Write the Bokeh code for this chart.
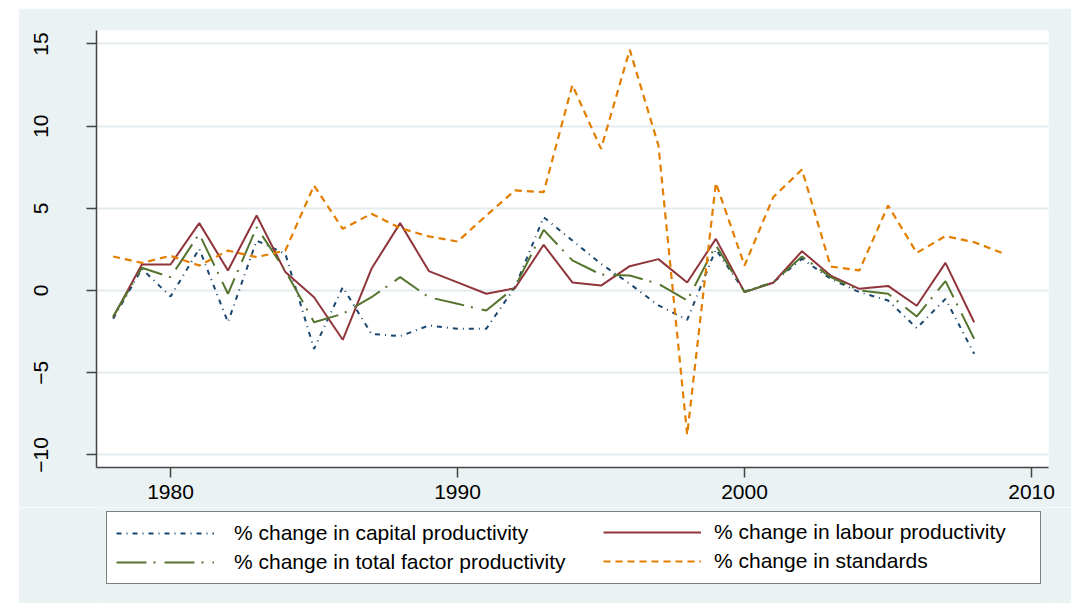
from bokeh.plotting import figure
from bokeh.models import Legend, LegendItem, FixedTicker, Range1d, Spacer
from bokeh.layouts import row, column
from bokeh.embed import file_html
from bokeh.resources import INLINE

years = list(range(1978, 2009))
years_std = list(range(1978, 2010))

capital = [-1.72, 1.32, -0.37, 2.54, -1.93, 3.04, 2.23, -3.55, 0.20, -2.64,
           -2.78, -2.13, -2.33, -2.33, 0.20, 4.46, 3.04, 1.62, 0.41, -0.91,
           -1.79, 2.50, -0.06, 0.50, 1.93, 0.71, -0.10, -0.61, -2.29, -0.51,
           -3.85]
labour = [-1.62, 1.58, 1.58, 4.10, 1.22, 4.56, 1.12, -0.41, -3.00, 1.32,
          4.10, 1.18, 0.49, -0.20, 0.14, 2.78, 0.49, 0.30, 1.48, 1.91,
          0.49, 3.14, -0.10, 0.47, 2.39, 0.91, 0.10, 0.28, -0.93, 1.68,
          -1.93]
tfp = [-1.58, 1.38, 0.81, 3.45, -0.20, 3.85, 1.20, -1.93, -1.42, -0.41,
       0.81, -0.41, -0.81, -1.22, 0.20, 3.69, 1.83, 0.97, 0.91, 0.41,
       -0.61, 2.76, -0.10, 0.50, 2.07, 0.81, 0.00, -0.20, -1.58, 0.57,
       -2.94]
standards = [2.07, 1.68, 2.11, 1.52, 2.43, 2.03, 2.43, 6.39, 3.75, 4.67,
             3.80, 3.29, 2.98, 4.56, 6.09, 5.98, 12.50, 8.62, 14.65, 8.82,
             -8.78, 6.55, 1.52, 5.68, 7.36, 1.46, 1.22, 5.17, 2.29, 3.31,
             2.94, 2.27]

x_ticks = [1980, 1990, 2000, 2010]
y_ticks = [-10, -5, 0, 5, 10, 15]

labels = ["% change in capital productivity",
          "% change in labour productivity",
          "% change in total factor productivity",
          "% change in standards"]

BG = "#EAF2F3"
FONT = "Liberation Sans"
STYLES = [dict(line_color="#1a476f", line_width=2, line_dash="5 5 1 5"),
          dict(line_color="#90353b", line_width=2),
          dict(line_color="#55752f", line_width=2, line_dash="30 7 2 9"),
          dict(line_color="#e37e00", line_width=2.2, line_dash="7 5")]
SERIES = [(years, capital), (years, labour), (years, tfp),
          (years_std, standards)]

X_RANGE = (1977.42, 2010.59)

p = figure(frame_width=952, frame_height=437,
           x_range=Range1d(*X_RANGE), y_range=Range1d(-10.77, 15.82),
           output_backend="svg", toolbar_location=None,
           min_border_left=78, min_border_right=23, min_border_top=22,
           min_border_bottom=40,
           background_fill_color="white", border_fill_color=BG)
p.outline_line_color = None

p.xgrid.visible = False
p.ygrid.grid_line_color = "#E4ECEF"
p.ygrid.grid_line_width = 2
p.ygrid.ticker = FixedTicker(ticks=y_ticks)

for ax in (p.xaxis[0], p.yaxis[0]):
    ax.axis_line_color = "#444444"
    ax.axis_line_width = 1.5
    ax.major_tick_line_color = "#444444"
    ax.major_tick_line_width = 1.5
    ax.major_tick_in = 0
    ax.major_tick_out = 10
    ax.minor_tick_line_color = None
    ax.major_label_text_font = FONT
    ax.major_label_text_font_size = "21px"
    ax.major_label_text_color = "black"

p.xaxis.ticker = FixedTicker(ticks=x_ticks)
p.yaxis.ticker = FixedTicker(ticks=y_ticks)
p.yaxis.major_label_orientation = "vertical"
p.yaxis.major_label_standoff = 38
p.xaxis.major_label_standoff = 7

for (xs, ys), st in zip(SERIES, STYLES):
    p.line(xs, ys, **st)

# legend panel: a second figure whose data window lies away from the series,
# so only the legend (with its line samples) shows
q = figure(width=1053, height=96, x_range=Range1d(*X_RANGE),
           y_range=Range1d(100, 200),
           output_backend="svg", toolbar_location=None,
           min_border=0, border_fill_color=BG, background_fill_color=BG)
q.outline_line_color = None
q.axis.visible = False
q.grid.visible = False
lr = [q.line(xs, ys, **st) for (xs, ys), st in zip(SERIES, STYLES)]

common = dict(glyph_width=98, glyph_height=20, label_height=20,
              padding=9, spacing=5, margin=0,
              label_text_font=FONT, label_text_font_size="21px",
              label_text_color="black")

leg_a = Legend(items=[LegendItem(label=labels[0], renderers=[lr[0]]),
                      LegendItem(label=labels[2], renderers=[lr[2]])],
               location=(10, 19), label_standoff=20, label_width=797,
               border_line_color="black", border_line_width=1,
               background_fill_color="white", background_fill_alpha=1,
               **common)
leg_b = Legend(items=[LegendItem(label=labels[1], renderers=[lr[1]]),
                      LegendItem(label=labels[3], renderers=[lr[3]])],
               location=(507, 30), label_standoff=13,
               border_line_color=None, background_fill_alpha=0,
               **common)
q.add_layout(leg_a, "center")
q.add_layout(leg_b, "center")

layout = column(Spacer(height=8), row(Spacer(width=18), column(p, q)))
open("out.html", "w").write(file_html(layout, INLINE))
